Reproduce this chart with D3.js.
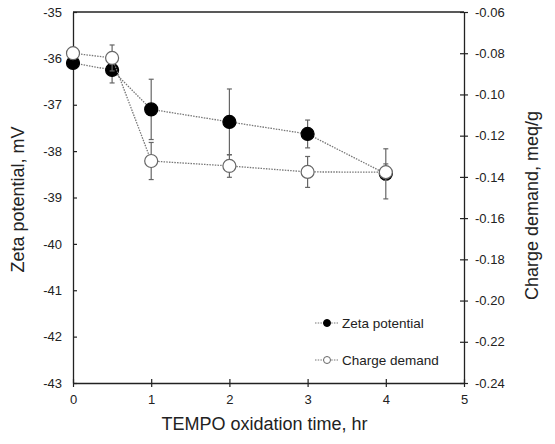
<!DOCTYPE html>
<html>
<head>
<meta charset="utf-8">
<script src="https://cdn.jsdelivr.net/npm/d3@7"></script>
<style>
  html, body { margin: 0; padding: 0; background: #fff; }
  svg text { font-family: "Liberation Sans", Arial, sans-serif; fill: #222; }
</style>
</head>
<body>
<svg id="chart" width="555" height="444"></svg>
<script>
// data
const times = [0, 0.5, 1, 2, 3, 4];
const zeta = [-36.1, -36.25, -37.1, -37.37, -37.63, -38.49];
const zetaErr = [0.1, 0.28, 0.65, 0.71, 0.3, 0.54];
const charge = [-0.080, -0.0823, -0.1323, -0.1347, -0.1376, -0.1377];
const chargeErr = [0.002, 0.0063, 0.009, 0.0055, 0.0075, 0.004];
const xTicks = [0, 1, 2, 3, 4, 5];
const leftTicks = [-35, -36, -37, -38, -39, -40, -41, -42, -43];
const rightTicks = [-0.06, -0.08, -0.10, -0.12, -0.14, -0.16, -0.18, -0.20, -0.22, -0.24];

const svg = d3.select('#chart');
const m = { left: 73, right: 464, top: 12, bottom: 383 };

const x = d3.scaleLinear().domain([0, 5]).range([m.left, m.right]);
const yL = d3.scaleLinear().domain([-43, -35]).range([m.bottom, m.top]);
const yR = d3.scaleLinear().domain([-0.24, -0.06]).range([m.bottom, m.top]);

const axisColor = '#222';

// frame: top line
svg.append('line')
  .attr('x1', m.left).attr('x2', m.right)
  .attr('y1', m.top).attr('y2', m.top)
  .attr('stroke', axisColor).attr('stroke-width', 1.3);

// axes with crossing ticks
function styleAxis(g) {
  g.select('.domain').attr('stroke', axisColor).attr('stroke-width', 1.3);
  g.selectAll('.tick line').attr('stroke', axisColor).attr('stroke-width', 1.2);
  g.selectAll('.tick text').style('font-size', '13px');
}

const gx = svg.append('g')
  .attr('transform', `translate(0,${m.bottom})`)
  .call(d3.axisBottom(x).tickValues(xTicks).tickFormat(d3.format('d'))
    .tickSizeInner(4).tickSizeOuter(0).tickPadding(8));
styleAxis(gx);
gx.selectAll('.tick line').attr('y1', -4);

const gl = svg.append('g')
  .attr('transform', `translate(${m.left},0)`)
  .call(d3.axisLeft(yL).tickValues(leftTicks)
    .tickSizeInner(4).tickSizeOuter(0).tickPadding(7));
styleAxis(gl);
gl.selectAll('.tick line').attr('x2', 4);
gl.selectAll('.tick text').text(d => String(d));

const gr = svg.append('g')
  .attr('transform', `translate(${m.right},0)`)
  .call(d3.axisRight(yR).tickValues(rightTicks)
    .tickSizeInner(4).tickSizeOuter(0).tickPadding(7));
styleAxis(gr);
gr.selectAll('.tick line').attr('x2', 4).attr('x1', -4);
gr.selectAll('.tick text').text(d => d.toFixed(2));

// axis titles
svg.append('text')
  .attr('x', (m.left + m.right) / 2 - 4).attr('y', 430)
  .attr('text-anchor', 'middle').style('font-size', '18px')
  .text('TEMPO oxidation time, hr');

svg.append('text')
  .attr('transform', `translate(24,${(m.top + m.bottom) / 2 + 2}) rotate(-90)`)
  .attr('text-anchor', 'middle').style('font-size', '18px')
  .text('Zeta potential, mV');

svg.append('text')
  .attr('transform', `translate(538,${(m.top + m.bottom) / 2 + 8}) rotate(-90)`)
  .attr('text-anchor', 'middle').style('font-size', '18px')
  .text('Charge demand, meq/g');

const lineColor = '#777';
const errColor = '#666';
const r = 6.5;

function drawSeries(vals, errs, yScale, filled) {
  const pts = times.map((t, i) => ({ t, v: vals[i], e: errs[i] }));
  const g = svg.append('g');

  g.append('path')
    .datum(pts)
    .attr('fill', 'none')
    .attr('stroke', lineColor)
    .attr('stroke-width', 1.3)
    .attr('stroke-dasharray', '1.5,1.2')
    .attr('d', d3.line().x(d => x(d.t)).y(d => yScale(d.v)));

  const eb = g.selectAll('.err').data(pts).enter().append('g').attr('class', 'err');
  eb.append('line')
    .attr('x1', d => x(d.t)).attr('x2', d => x(d.t))
    .attr('y1', d => yScale(d.v - d.e)).attr('y2', d => yScale(d.v + d.e))
    .attr('stroke', errColor).attr('stroke-width', 1.2);
  eb.selectAll('.cap').data(d => [d.v - d.e, d.v + d.e].map(v => ({ t: d.t, v })))
    .enter().append('line')
    .attr('x1', d => x(d.t) - 2.5).attr('x2', d => x(d.t) + 2.5)
    .attr('y1', d => yScale(d.v)).attr('y2', d => yScale(d.v))
    .attr('stroke', errColor).attr('stroke-width', 1.2);

  g.selectAll('circle').data(pts).enter().append('circle')
    .attr('cx', d => x(d.t)).attr('cy', d => yScale(d.v)).attr('r', r)
    .attr('fill', filled ? '#000' : '#fff')
    .attr('stroke', filled ? '#000' : '#666')
    .attr('stroke-width', 1.2);
}

drawSeries(zeta, zetaErr, yL, true);
drawSeries(charge, chargeErr, yR, false);

// legend
const legendItems = [
  { label: 'Zeta potential', filled: true, y: 323 },
  { label: 'Charge demand', filled: false, y: 360 },
];
const lg = svg.append('g');
legendItems.forEach(item => {
  lg.append('line')
    .attr('x1', 315).attr('x2', 338).attr('y1', item.y).attr('y2', item.y)
    .attr('stroke', lineColor).attr('stroke-width', 1.2)
    .attr('stroke-dasharray', '1.5,1.2');
  lg.append('circle')
    .attr('cx', 327).attr('cy', item.y).attr('r', 3.5)
    .attr('fill', item.filled ? '#000' : '#fff')
    .attr('stroke', item.filled ? '#000' : '#666').attr('stroke-width', 1);
  lg.append('text')
    .attr('x', 342).attr('y', item.y + 5)
    .style('font-size', '13.5px')
    .text(item.label);
});
</script>
</body>
</html>
